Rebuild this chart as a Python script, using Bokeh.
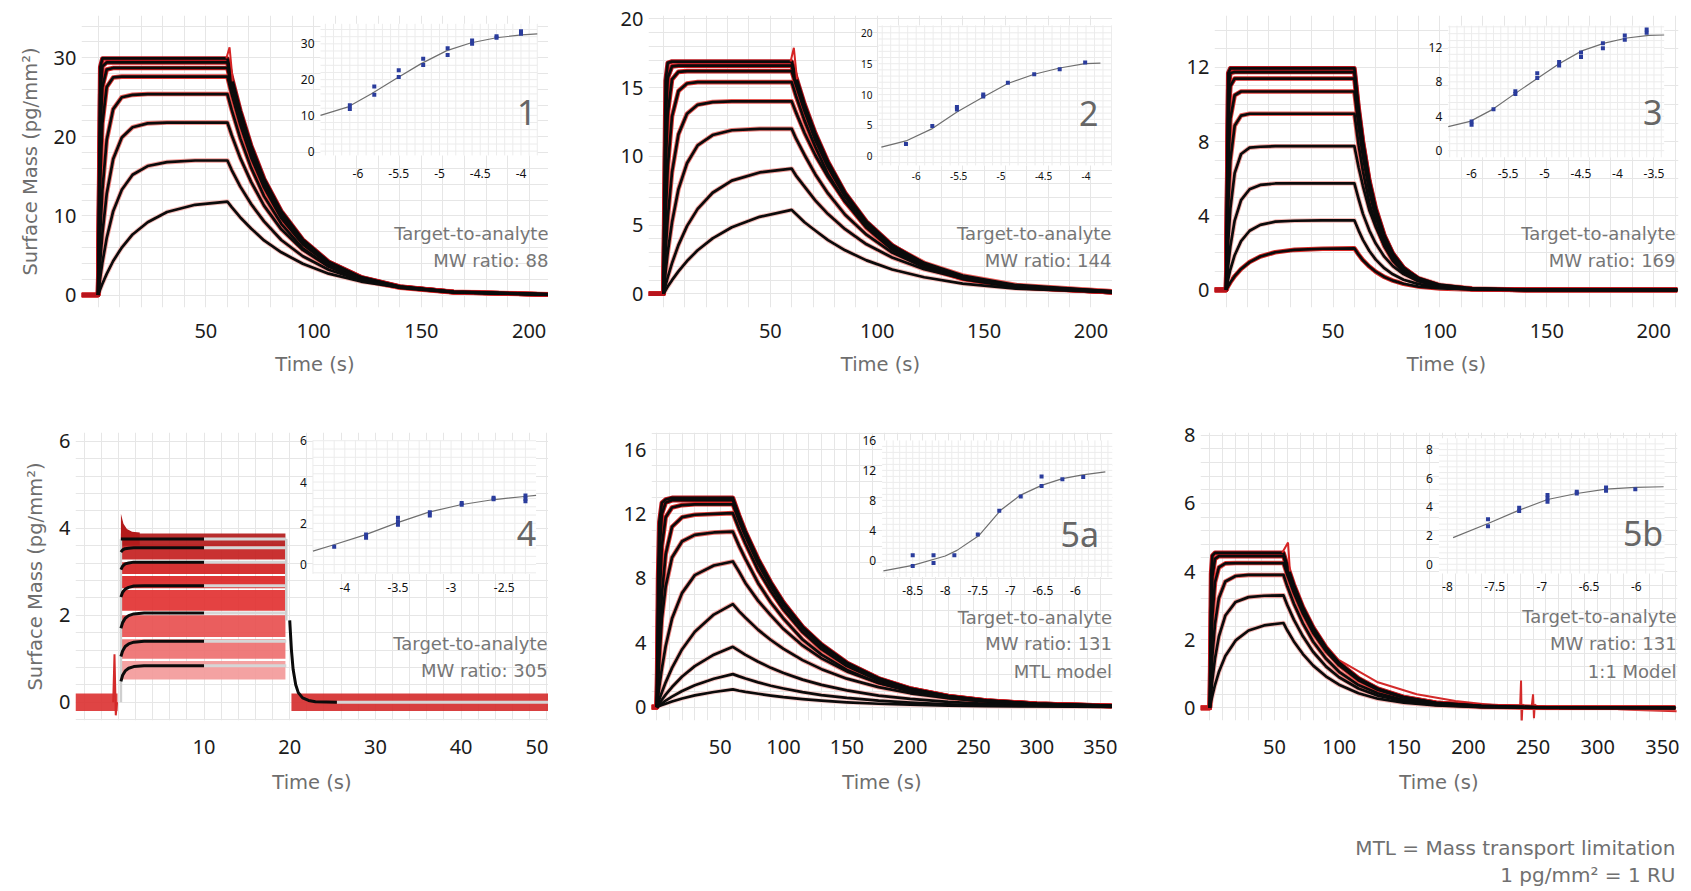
import numpy as np
from bokeh.plotting import figure
from bokeh.layouts import column, row
from bokeh.models import Range1d, FixedTicker, SingleIntervalTicker, Label
from bokeh.core.properties import value
from bokeh.embed import file_html
from bokeh.resources import INLINE

FONT = "Noto Sans"
WIDE_FONT = "DejaVu Sans"
TICK_COLOR = "#1b1b1b"
LABEL_GRAY = "#6e6e6e"
NOTE_GRAY = "#767676"
NUM_GRAY = "#666666"
GRID = "#e6e6e6"
FIT = "#0b0b0b"

Y_TITLE = "Surface Mass (pg/mm²)"
X_TITLE = "Time (s)"
FOOTER_LINES = ["MTL = Mass transport limitation", "1 pg/mm² = 1 RU"]

# ---------------- Panel 1 ----------------
P1_T = [0, 1, 2, 4, 7, 11, 16, 23, 32, 45, 60, 62, 66, 71, 77, 85, 95, 107, 122, 140, 165, 209]
P1_Y = [
    [0, 28.8, 29.9, 29.9, 29.9, 29.9, 29.9, 29.9, 29.9, 29.9, 29.9, 27.5, 23.3, 18.9, 14.7, 10.6, 7.0, 4.2, 2.26, 1.07, 0.38, 0.06],
    [0, 25.4, 28.9, 29.4, 29.4, 29.4, 29.4, 29.4, 29.4, 29.4, 29.4, 27.0, 22.9, 18.6, 14.5, 10.4, 6.85, 4.15, 2.22, 1.05, 0.37, 0.06],
    [0, 20.5, 26.3, 28.5, 28.7, 28.7, 28.7, 28.7, 28.7, 28.7, 28.7, 26.4, 22.4, 18.1, 14.1, 10.1, 6.7, 4.05, 2.17, 1.02, 0.36, 0.06],
    [0, 14.8, 21.7, 26.3, 27.5, 27.6, 27.6, 27.6, 27.6, 27.6, 27.6, 25.4, 21.5, 17.4, 13.6, 9.7, 6.4, 3.9, 2.08, 0.99, 0.35, 0.06],
    [0, 7.9, 13.3, 19.6, 23.5, 25.0, 25.3, 25.4, 25.4, 25.4, 25.4, 23.4, 19.8, 16.1, 12.5, 9.0, 5.9, 3.6, 1.92, 0.91, 0.32, 0.05],
    [0, 4.3, 7.8, 12.8, 17.2, 19.9, 21.2, 21.7, 21.8, 21.8, 21.8, 20.2, 17.3, 14.3, 11.3, 8.3, 5.7, 3.6, 2.0, 1.0, 0.38, 0.07],
    [0, 2.2, 4.1, 7.2, 10.6, 13.3, 15.2, 16.3, 16.8, 17.0, 17.0, 15.8, 13.7, 11.5, 9.3, 6.95, 4.9, 3.2, 1.85, 0.98, 0.40, 0.08],
    [0, 0.73, 1.42, 2.67, 4.3, 6.0, 7.65, 9.2, 10.5, 11.4, 11.8, 11.1, 9.8, 8.4, 6.9, 5.4, 3.95, 2.7, 1.7, 0.97, 0.44, 0.11],
]
P1_RAW_COLORS = ["#b8141c", "#c81a1f", "#d62424", "#e03a36", "#e85a55", "#ee7c77", "#f29d99", "#f6bdb9"]
P1_SPIKE_T = [59.5, 61, 62.5]
P1_SPIKE_Y = [29.9, 31.3, 27.0]
P1_IN_CONC = [-6.1, -6.1, -5.8, -5.8, -5.5, -5.5, -5.2, -5.2, -4.9, -4.9, -4.6, -4.6, -4.3, -4.3, -4.0, -4.0]
P1_IN_RESP = [12.8, 11.8, 18.1, 15.8, 22.6, 20.7, 25.8, 24.1, 28.8, 26.9, 30.9, 30.0, 32.1, 31.7, 33.5, 32.8]
P1_FIT_CONC = [-6.46, -6.13, -5.84, -5.54, -5.23, -4.91, -4.61, -4.30, -3.99, -3.8]
P1_FIT_RESP = [10.0, 12.3, 16.0, 20.2, 24.4, 28.1, 30.3, 31.7, 32.5, 32.8]
P1_IN_XT = [-6, -5.5, -5, -4.5, -4]
P1_IN_YT = [0, 10, 20, 30]
P1_NOTES = ["Target-to-analyte", "MW ratio: 88"]

# ---------------- Panel 2 ----------------
P2_T = [0, 1, 2, 4, 7, 11, 16, 23, 32, 45, 60, 62, 66, 71, 77, 85, 95, 107, 122, 140, 165, 210]
P2_Y = [
    [0, 15.5, 16.8, 16.9, 16.9, 16.9, 16.9, 16.9, 16.9, 16.9, 16.9, 15.8, 13.8, 11.7, 9.6, 7.35, 5.25, 3.53, 2.15, 1.17, 0.51, 0.12],
    [0, 12.6, 15.7, 16.55, 16.6, 16.6, 16.6, 16.6, 16.6, 16.6, 16.6, 15.5, 13.6, 11.5, 9.4, 7.2, 5.16, 3.47, 2.11, 1.15, 0.50, 0.12],
    [0, 9.2, 13.1, 15.6, 16.15, 16.2, 16.2, 16.2, 16.2, 16.2, 16.2, 15.2, 13.3, 11.2, 9.2, 7.05, 5.04, 3.39, 2.06, 1.13, 0.49, 0.11],
    [0, 5.6, 9.2, 12.9, 14.75, 15.3, 15.4, 15.4, 15.4, 15.4, 15.4, 14.4, 12.6, 10.7, 8.7, 6.7, 4.8, 3.2, 1.96, 1.07, 0.47, 0.11],
    [0, 3.1, 5.5, 8.85, 11.6, 13.1, 13.75, 13.95, 14.0, 14.0, 14.0, 13.2, 11.7, 10.1, 8.5, 6.7, 5.0, 3.5, 2.25, 1.33, 0.64, 0.18],
    [0, 1.6, 3.0, 5.2, 7.6, 9.5, 10.8, 11.55, 11.9, 12.0, 12.0, 11.3, 10.1, 8.7, 7.3, 5.75, 4.3, 3.0, 1.93, 1.14, 0.55, 0.15],
    [0, 0.62, 1.19, 2.23, 3.54, 4.92, 6.18, 7.35, 8.23, 8.83, 9.1, 8.6, 7.8, 6.8, 5.8, 4.7, 3.6, 2.64, 1.78, 1.11, 0.57, 0.18],
    [0, 0.26, 0.52, 0.99, 1.63, 2.38, 3.17, 4.03, 4.84, 5.6, 6.1, 5.8, 5.2, 4.6, 3.9, 3.16, 2.43, 1.77, 1.2, 0.74, 0.38, 0.12],
]
P2_RAW_COLORS = ["#b8141c", "#c81a1f", "#d62424", "#e03a36", "#e85a55", "#ee7c77", "#f29d99", "#f6bdb9"]
P2_SPIKE_T = [59.5, 61, 62.5]
P2_SPIKE_Y = [16.9, 17.9, 15.6]
P2_IN_CONC = [-6.12, -5.81, -5.52, -5.52, -5.21, -5.21, -4.92, -4.61, -4.31, -4.01]
P2_IN_RESP = [2.0, 4.9, 8.0, 7.6, 10.0, 9.7, 11.9, 13.3, 14.1, 15.2]
P2_FIT_CONC = [-6.41, -6.12, -5.81, -5.52, -5.21, -4.92, -4.61, -4.31, -4.01, -3.83]
P2_FIT_RESP = [1.5, 2.5, 4.5, 7.2, 9.6, 11.8, 13.3, 14.3, 15.0, 15.1]
P2_IN_XT = [-6, -5.5, -5, -4.5, -4]
P2_IN_YT = [0, 5, 10, 15, 20]
P2_NOTES = ["Target-to-analyte", "MW ratio: 144"]

# ---------------- Panel 3 ----------------
P3_T = [0, 1, 2, 4, 7, 11, 16, 23, 32, 45, 60, 62, 64, 67, 70, 74, 78, 83, 90, 100, 115, 140, 211]
P3_Y = [
    [0, 11.7, 11.95, 11.95, 11.95, 11.95, 11.95, 11.95, 11.95, 11.95, 11.95, 9.8, 8.0, 5.9, 4.4, 2.95, 1.97, 1.2, 0.6, 0.22, 0.05, 0, 0],
    [0, 10.8, 11.7, 11.75, 11.75, 11.75, 11.75, 11.75, 11.75, 11.75, 11.75, 9.6, 7.9, 5.8, 4.3, 2.9, 1.94, 1.18, 0.59, 0.21, 0.05, 0, 0],
    [0, 9.25, 11.0, 11.4, 11.4, 11.4, 11.4, 11.4, 11.4, 11.4, 11.4, 9.3, 7.6, 5.7, 4.2, 2.8, 1.88, 1.14, 0.57, 0.21, 0.05, 0, 0],
    [0, 6.8, 9.25, 10.5, 10.7, 10.7, 10.7, 10.7, 10.7, 10.7, 10.7, 8.8, 7.2, 5.3, 3.9, 2.6, 1.77, 1.07, 0.54, 0.19, 0.04, 0, 0],
    [0, 4.6, 7.0, 8.85, 9.4, 9.5, 9.5, 9.5, 9.5, 9.5, 9.5, 7.8, 6.4, 4.7, 3.5, 2.35, 1.57, 0.95, 0.48, 0.17, 0.04, 0, 0],
    [0, 2.64, 4.38, 6.3, 7.33, 7.67, 7.72, 7.75, 7.75, 7.75, 7.75, 6.6, 5.6, 4.3, 3.4, 2.4, 1.73, 1.14, 0.64, 0.28, 0.08, 0.01, 0],
    [0, 1.33, 2.35, 3.74, 4.84, 5.43, 5.66, 5.74, 5.75, 5.75, 5.75, 4.9, 4.1, 3.2, 2.5, 1.79, 1.28, 0.85, 0.47, 0.21, 0.06, 0.01, 0],
    [0, 0.59, 1.1, 1.87, 2.63, 3.19, 3.51, 3.68, 3.73, 3.75, 3.75, 3.2, 2.7, 2.1, 1.63, 1.17, 0.84, 0.55, 0.31, 0.14, 0.04, 0, 0],
    [0, 0.21, 0.41, 0.74, 1.13, 1.5, 1.8, 2.03, 2.16, 2.22, 2.24, 1.9, 1.6, 1.26, 0.98, 0.7, 0.5, 0.33, 0.18, 0.08, 0.02, 0, 0],
]
P3_RAW_COLORS = ["#b8141c", "#c81a1f", "#d62424", "#e03a36", "#e85a55", "#f0a09c", "#f3aeaa", "#f5bcb8", "#d92a26"]
P3_IN_CONC = [-6.0, -6.0, -5.7, -5.4, -5.4, -5.1, -5.1, -4.8, -4.8, -4.5, -4.5, -4.2, -4.2, -3.9, -3.9, -3.6, -3.6]
P3_IN_RESP = [3.4, 3.0, 4.8, 6.9, 6.6, 9.0, 8.45, 10.3, 9.9, 11.4, 10.9, 12.5, 11.9, 13.4, 12.9, 14.1, 13.7]
P3_FIT_CONC = [-6.32, -6.02, -5.71, -5.41, -5.09, -4.80, -4.49, -4.18, -3.87, -3.57, -3.36]
P3_FIT_RESP = [2.8, 3.4, 4.8, 6.6, 8.45, 10.1, 11.6, 12.5, 13.1, 13.4, 13.45]
P3_IN_XT = [-6, -5.5, -5, -4.5, -4, -3.5]
P3_IN_YT = [0, 4, 8, 12]
P3_NOTES = ["Target-to-analyte", "MW ratio: 169"]

# ---------------- Panel 4 ----------------
P4_LEVELS = [3.75, 3.55, 3.22, 2.68, 2.05, 1.40, 0.84]
P4_FIT_T = [0.3, 0.5, 0.8, 1.2, 1.8, 3.0, 10.0]
P4_FIT_Y = [
    [3.75, 3.75, 3.75, 3.75, 3.75, 3.75, 3.75],
    [3.45, 3.5, 3.53, 3.54, 3.55, 3.55, 3.55],
    [3.05, 3.13, 3.18, 3.2, 3.22, 3.22, 3.22],
    [2.42, 2.53, 2.6, 2.64, 2.67, 2.68, 2.68],
    [1.7, 1.83, 1.93, 1.99, 2.03, 2.05, 2.05],
    [1.05, 1.18, 1.28, 1.34, 1.38, 1.40, 1.40],
    [0.48, 0.62, 0.72, 0.78, 0.82, 0.84, 0.84],
]
P4_INJ_START = 0.3
P4_INJ_END = 19.6
P4_DISSO_T = [20.0, 20.2, 20.4, 20.7, 21.0, 21.5, 22.2, 23.0, 25.5]
P4_DISSO_Y = [1.88, 1.2, 0.75, 0.4, 0.22, 0.1, 0.04, 0.01, 0.0]
P4_BAND_LO = [3.6, 3.28, 2.95, 2.62, 2.1, 1.5, 1.0, 0.52]
P4_BAND_HI = [3.88, 3.62, 3.22, 2.9, 2.58, 2.0, 1.45, 0.95]
P4_BAND_COLORS = ["#b31b1b", "#c41f1f", "#d22222", "#dc2626", "#e23232", "#e85050", "#ee7070", "#f39a9a"]
P4_SPIKE_T = [0.3, 0.6, 1.0, 1.6, 2.5]
P4_SPIKE_HI = [4.33, 4.1, 3.98, 3.92, 3.9]
P4_BASE_LO = -0.2
P4_BASE_HI = 0.2
P4_PRE_SPIKE_T = [-0.6, -0.45, -0.3, -0.15]
P4_PRE_SPIKE_Y = [0.0, 1.1, -0.3, 0.0]
P4_IN_CONC = [-4.1, -3.8, -3.8, -3.5, -3.5, -3.5, -3.2, -3.2, -2.9, -2.9, -2.6, -2.6, -2.3, -2.3, -2.3]
P4_IN_RESP = [0.87, 1.46, 1.30, 2.27, 2.09, 1.93, 2.54, 2.38, 2.98, 2.90, 3.24, 3.16, 3.35, 3.19, 3.07]
P4_FIT_CONC = [-4.30, -4.11, -3.81, -3.51, -3.21, -2.91, -2.61, -2.31, -2.2]
P4_FIT_RESP = [0.65, 0.95, 1.44, 2.02, 2.54, 2.9, 3.14, 3.30, 3.35]
P4_IN_XT = [-4, -3.5, -3, -2.5]
P4_IN_YT = [0, 2, 4, 6]
P4_NOTES = ["Target-to-analyte", "MW ratio: 305"]

# ---------------- Panel 5a ----------------
P5A_T = [0, 1, 2, 4, 7, 12, 20, 30, 45, 60, 65, 70, 80, 90, 100, 115, 130, 150, 175, 200, 230, 260, 300, 359]
P5A_Y = [
    [0, 8.0, 11.5, 12.7, 12.9, 13.0, 13.0, 13.0, 13.0, 13.0, 11.9, 10.9, 9.2, 7.75, 6.5, 5.0, 3.9, 2.76, 1.79, 1.16, 0.69, 0.41, 0.21, 0.08],
    [0, 5.5, 9.5, 12.0, 12.7, 12.85, 12.85, 12.85, 12.85, 12.85, 11.8, 10.8, 9.1, 7.66, 6.45, 4.97, 3.84, 2.72, 1.77, 1.15, 0.68, 0.41, 0.21, 0.07],
    [0, 3.5, 6.5, 10.0, 11.8, 12.4, 12.55, 12.6, 12.6, 12.6, 11.55, 10.6, 8.9, 7.5, 6.3, 4.9, 3.77, 2.67, 1.74, 1.12, 0.67, 0.4, 0.2, 0.07],
    [0, 2.0, 3.9, 7.0, 9.5, 11.2, 11.8, 11.95, 12.0, 12.05, 11.05, 10.15, 8.5, 7.2, 6.05, 4.66, 3.6, 2.55, 1.66, 1.07, 0.64, 0.38, 0.19, 0.07],
    [0, 1.5, 3.0, 5.5, 7.5, 9.3, 10.3, 10.7, 10.85, 10.9, 10.0, 9.2, 7.7, 6.5, 5.5, 4.2, 3.26, 2.31, 1.5, 0.97, 0.58, 0.35, 0.17, 0.06],
    [0, 0.67, 1.3, 2.4, 3.8, 5.5, 7.1, 8.2, 8.8, 9.05, 8.4, 7.7, 6.6, 5.7, 4.85, 3.83, 3.03, 2.22, 1.5, 1.01, 0.63, 0.4, 0.21, 0.09],
    [0, 0.24, 0.48, 0.92, 1.54, 2.44, 3.6, 4.68, 5.75, 6.4, 5.95, 5.55, 4.8, 4.17, 3.62, 2.92, 2.36, 1.77, 1.24, 0.86, 0.56, 0.36, 0.2, 0.09],
    [0, 0.12, 0.24, 0.46, 0.78, 1.25, 1.9, 2.55, 3.26, 3.75, 3.5, 3.25, 2.82, 2.44, 2.12, 1.71, 1.38, 1.04, 0.72, 0.51, 0.33, 0.21, 0.12, 0.05],
    [0, 0.06, 0.12, 0.24, 0.4, 0.65, 1.0, 1.36, 1.76, 2.05, 1.91, 1.78, 1.54, 1.33, 1.16, 0.93, 0.75, 0.57, 0.4, 0.28, 0.18, 0.12, 0.07, 0.03],
    [0, 0.03, 0.065, 0.13, 0.215, 0.35, 0.54, 0.73, 0.94, 1.1, 1.02, 0.95, 0.83, 0.72, 0.62, 0.5, 0.4, 0.3, 0.21, 0.15, 0.1, 0.06, 0.04, 0.02],
]
P5A_RAW_COLORS = ["#c0161c", "#d01d20", "#dc2a28", "#e2403b", "#ea6560", "#ef8a86", "#f3a5a1", "#f5b8b5", "#f7c8c5", "#f8d2d0"]
P5A_IN_CONC = [-8.5, -8.5, -8.18, -8.18, -7.86, -7.5, -7.17, -6.84, -6.52, -6.52, -6.2, -5.88]
P5A_IN_RESP = [0.67, -0.76, 0.67, -0.36, 0.67, 3.45, 6.6, 8.5, 11.2, 9.9, 10.8, 11.1]
P5A_FIT_CONC = [-8.95, -8.5, -8.0, -7.82, -7.48, -7.15, -6.85, -6.52, -6.2, -5.89, -5.54]
P5A_FIT_RESP = [-1.4, -0.67, 0.58, 1.33, 3.33, 6.67, 8.67, 10.0, 10.9, 11.4, 11.8]
P5A_IN_XT = [-8.5, -8, -7.5, -7, -6.5, -6]
P5A_IN_YT = [0, 4, 8, 12, 16]
P5A_NOTES = ["Target-to-analyte", "MW ratio: 131", "MTL model"]

# ---------------- Panel 5b ----------------
P5B_T = [0, 1, 2, 4, 7, 12, 20, 30, 42, 57, 60, 65, 72, 80, 90, 100, 115, 130, 150, 175, 210, 260, 360]
P5B_Y = [
    [0, 3.94, 4.47, 4.55, 4.55, 4.55, 4.55, 4.55, 4.55, 4.55, 4.18, 3.62, 2.96, 2.36, 1.77, 1.33, 0.87, 0.56, 0.32, 0.15, 0.06, 0.01, 0],
    [0, 2.81, 3.85, 4.37, 4.45, 4.45, 4.45, 4.45, 4.45, 4.45, 4.09, 3.54, 2.9, 2.31, 1.74, 1.3, 0.85, 0.55, 0.31, 0.15, 0.06, 0.01, 0],
    [0, 1.67, 2.69, 3.68, 4.12, 4.24, 4.25, 4.25, 4.25, 4.25, 3.9, 3.38, 2.77, 2.2, 1.66, 1.25, 0.81, 0.53, 0.3, 0.14, 0.05, 0.01, 0],
    [0, 0.86, 1.53, 2.46, 3.22, 3.71, 3.87, 3.9, 3.9, 3.9, 3.56, 3.06, 2.48, 1.94, 1.44, 1.06, 0.67, 0.43, 0.23, 0.11, 0.04, 0.01, 0],
    [0, 0.44, 0.82, 1.44, 2.09, 2.71, 3.11, 3.25, 3.29, 3.3, 3.01, 2.59, 2.1, 1.64, 1.21, 0.9, 0.57, 0.36, 0.2, 0.09, 0.03, 0.01, 0],
    [0, 0.19, 0.36, 0.67, 1.05, 1.52, 1.98, 2.27, 2.42, 2.49, 2.27, 1.95, 1.58, 1.24, 0.92, 0.68, 0.43, 0.27, 0.15, 0.07, 0.02, 0, 0],
]
P5B_RAW_COLORS = ["#c81a1f", "#d62424", "#e03a36", "#ea6a66", "#f0a09c", "#f4b6b3"]
P5B_SPIKE_T = [56, 60.5, 62]
P5B_SPIKE_Y = [4.55, 4.85, 4.0]
P5B_RAW_TAIL_T = [100, 130, 160, 190, 220, 240, 240.7, 241.2, 241.8, 243, 249, 250, 250.7, 251.3, 253, 300, 330, 361]
P5B_RAW_TAIL_Y = [1.4, 0.75, 0.4, 0.2, 0.08, 0.06, 0.8, -0.45, 0.1, 0.06, 0.06, 0.4, -0.3, 0.1, 0.05, 0.0, -0.06, -0.1]
P5B_IN_CONC = [-7.57, -7.57, -7.24, -7.24, -6.94, -6.94, -6.94, -6.63, -6.63, -6.32, -6.32, -6.01]
P5B_IN_RESP = [3.15, 2.66, 3.94, 3.71, 4.83, 4.59, 4.36, 5.06, 4.94, 5.36, 5.13, 5.24]
P5B_FIT_CONC = [-7.94, -7.57, -7.24, -6.94, -6.63, -6.32, -6.01, -5.71]
P5B_FIT_RESP = [1.86, 2.85, 3.78, 4.52, 4.94, 5.24, 5.36, 5.41]
P5B_IN_XT = [-8, -7.5, -7, -6.5, -6]
P5B_IN_YT = [0, 2, 4, 6, 8]
P5B_NOTES = ["Target-to-analyte", "MW ratio: 131", "1:1 Model"]


def fmt(v):
    return str(int(v)) if float(v).is_integer() else str(v)


def base_fig(w, h, bl, br, bt, bb, xr, yr, xt, yt, gx, gy, ylab, lab_off=16, title_off=12):
    p = figure(width=w, height=h, x_range=Range1d(*xr), y_range=Range1d(*yr),
               output_backend="svg", toolbar_location=None, tools="",
               min_border_left=bl, min_border_right=br, min_border_top=bt, min_border_bottom=bb)
    p.outline_line_color = None
    p.background_fill_color = "white"
    p.border_fill_color = "white"
    p.xaxis.ticker = FixedTicker(ticks=xt)
    p.yaxis.ticker = FixedTicker(ticks=yt)
    p.xgrid.ticker = SingleIntervalTicker(interval=gx)
    p.ygrid.ticker = SingleIntervalTicker(interval=gy)
    p.grid.grid_line_color = GRID
    p.grid.grid_line_width = 1
    for ax in p.axis:
        ax.axis_line_color = None
        ax.major_tick_line_color = None
        ax.minor_tick_line_color = None
        ax.major_tick_out = 0
        ax.major_tick_in = 0
        ax.minor_tick_out = 0
        ax.minor_tick_in = 0
        ax.major_label_text_font = FONT
        ax.major_label_text_font_size = "20px"
        ax.major_label_text_color = TICK_COLOR
        ax.axis_label_text_font = WIDE_FONT
        ax.axis_label_text_font_size = "19.5px"
        ax.axis_label_text_font_style = "normal"
        ax.axis_label_text_color = LABEL_GRAY
    p.xaxis.axis_label = X_TITLE
    p.xaxis.major_label_standoff = lab_off
    p.xaxis.axis_label_standoff = title_off
    p.yaxis.major_label_standoff = 5
    p.yaxis.axis_label_standoff = 9
    if ylab:
        p.yaxis.axis_label = Y_TITLE
    return p


def sensorgram(p, t, curves, reds, x0, red_w=4.6, fit_w=2.7):
    for ys, c in reversed(list(zip(curves, reds))):
        p.line([x0] + t, [0.0] + ys, line_color=c, line_width=red_w, line_join="round")
    for ys in curves:
        p.line(t, ys, line_color=FIT, line_width=fit_w, line_join="round")


def inset(p, sx, sy, tx, ty, xt, yt, cx, cy, px, py, fs, xoff):
    xy = p.subplot(x_source=Range1d(*sx), y_source=Range1d(*sy),
                   x_target=Range1d(*tx), y_target=Range1d(*ty))
    xy.quad(left=[sx[0]], right=[sx[1]], bottom=[sy[0]], top=[sy[1]],
            fill_color="white", line_color=None)
    gxs = np.arange(np.ceil(sx[0] * 10) / 10, sx[1], 0.1)
    ystep = (yt[1] - yt[0]) / 5.0
    gys = np.arange(np.ceil(sy[0] / ystep) * ystep, sy[1], ystep)
    xy.segment(x0=gxs, y0=[sy[0]] * len(gxs), x1=gxs, y1=[sy[1]] * len(gxs),
               line_color="#ececec", line_width=1)
    xy.segment(x0=[sx[0]] * len(gys), y0=gys, x1=[sx[1]] * len(gys), y1=gys,
               line_color="#ececec", line_width=1)
    xy.line(cx, cy, line_color="#6f6f6f", line_width=1.2)
    xy.scatter(px, py, marker="square", size=4, fill_color="#2a3c9c", line_color=None)
    xy.text(x=xt, y=[sy[0]] * len(xt), text=[fmt(v) for v in xt], y_offset=xoff,
            text_align="center", text_baseline="middle", text_font=value(FONT),
            text_font_size=fs, text_color="#111111")
    xy.text(x=[sx[0]] * len(yt), y=yt, text=[fmt(v) for v in yt], x_offset=-6,
            text_align="right", text_baseline="middle", text_font=value(FONT),
            text_font_size=fs, text_color="#111111")


def annotate(p, num, nx, ny, notes, ax, ys):
    p.add_layout(Label(x=nx, y=ny, text=num, text_font=FONT, text_font_size="34px",
                       text_color=NUM_GRAY, text_align="right", text_baseline="middle"))
    for txt, y in zip(notes, ys):
        p.add_layout(Label(x=ax, y=y, text=txt, text_font=WIDE_FONT, text_font_size="18px",
                           text_color=NOTE_GRAY, text_align="right", text_baseline="middle"))


# ---------------- build row 1 ----------------
R1_H, R1_T, R1_B = 393, 15, 86
f1 = base_fig(548, R1_H, 81, 0, R1_T, R1_B, (-7.7, 209.0), (-1.58, 35.33), [50, 100, 150, 200], [0, 10, 20, 30], 10, 2, True)
sensorgram(f1, P1_T, P1_Y, P1_RAW_COLORS, -7.7)
f1.line(P1_SPIKE_T, P1_SPIKE_Y, line_color="#d62424", line_width=2)
inset(f1, (-6.46, -3.8), (-1.2, 35.6), (103.2, 203.8), (17.64, 34.28), P1_IN_XT, P1_IN_YT,
      P1_FIT_CONC, P1_FIT_RESP, P1_IN_CONC, P1_IN_RESP, "12px", 18)
annotate(f1, "1", 203.4, 23.1, P1_NOTES, 209.0, [7.81, 4.36])

f2 = base_fig(564, R1_H, 100, 0, R1_T, R1_B, (-7.0, 210.1), (-1.0, 20.25), [50, 100, 150, 200], [0, 5, 10, 15, 20], 10, 1, False)
sensorgram(f2, P2_T, P2_Y, P2_RAW_COLORS, -7.0)
f2.line(P2_SPIKE_T, P2_SPIKE_Y, line_color="#d62424", line_width=2)
inset(f2, (-6.444, -3.688), (-1.46, 21.2), (100.6, 210.1), (9.34, 19.53), P2_IN_XT, P2_IN_YT,
      P2_FIT_CONC, P2_FIT_RESP, P2_IN_CONC, P2_IN_RESP, "10px", 11)
annotate(f2, "2", 203.5, 13.12, P2_NOTES, 209.6, [4.41, 2.42])

f3 = base_fig(571, R1_H, 102, 5, R1_T, R1_B, (-5.43, 211.6), (-0.95, 14.8), [50, 100, 150, 200], [0, 4, 8, 12], 10, 1, False)
sensorgram(f3, P3_T, P3_Y, P3_RAW_COLORS, -5.43)
inset(f3, (-6.32, -3.36), (-0.78, 14.53), (103.9, 204.9), (7.15, 14.25), P3_IN_XT, P3_IN_YT,
      P3_FIT_CONC, P3_FIT_RESP, P3_IN_CONC, P3_IN_RESP, "12px", 16)
annotate(f3, "3", 204.1, 9.57, P3_NOTES, 210.2, [3.05, 1.58])

# ---------------- build row 2 ----------------
R2_H, R2_T, R2_B = 415, 39, 88
f4 = base_fig(548, R2_H, 75, 0, R2_T, R2_B, (-5.0, 50.2), (-0.42, 6.2), [10, 20, 30, 40, 50], [0, 2, 4, 6], 2, 0.4, True, 19, 14)
x0, x1 = f4.x_range.start, f4.x_range.end
f4.varea(x=[x0, -0.1], y1=[P4_BASE_LO] * 2, y2=[P4_BASE_HI] * 2, fill_color="#dc3030", fill_alpha=0.9)
f4.varea(x=[20.2, x1], y1=[P4_BASE_LO] * 2, y2=[P4_BASE_HI] * 2, fill_color="#d42a2a", fill_alpha=0.9)
f4.line(P4_PRE_SPIKE_T, P4_PRE_SPIKE_Y, line_color="#d42a2a", line_width=2)
for lo, hi, c in reversed(list(zip(P4_BAND_LO, P4_BAND_HI, P4_BAND_COLORS))):
    f4.varea(x=[P4_INJ_START, P4_INJ_END - 0.1], y1=[lo, lo], y2=[hi, hi], fill_color=c, fill_alpha=0.92)
f4.varea(x=P4_SPIKE_T, y1=[P4_BAND_LO[0]] * len(P4_SPIKE_T), y2=P4_SPIKE_HI, fill_color=P4_BAND_COLORS[0])
f4.line([P4_INJ_START, P4_INJ_START], [0, P4_LEVELS[0]], line_color="#cfcfcf", line_width=2.5)
for lv in P4_LEVELS:
    f4.line([P4_FIT_T[-1], P4_INJ_END], [lv, lv], line_color="#d6d6d6", line_width=3)
f4.line([P4_INJ_END, P4_INJ_END], [P4_LEVELS[0], P4_DISSO_Y[0]], line_color="#cfcfcf", line_width=2.5)
f4.line([P4_DISSO_T[-1], x1], [0, 0], line_color="#d6d6d6", line_width=3)
for ys in P4_FIT_Y:
    f4.line(P4_FIT_T, ys, line_color=FIT, line_width=3)
f4.line(P4_DISSO_T, P4_DISSO_Y, line_color=FIT, line_width=3)
inset(f4, (-4.30, -2.20), (-0.45, 6.02), (22.71, 48.75), (2.95, 6.02), P4_IN_XT, P4_IN_YT,
      P4_FIT_CONC, P4_FIT_RESP, P4_IN_CONC, P4_IN_RESP, "12px", 14)
annotate(f4, "4", 48.75, 3.87, P4_NOTES, 50.1, [1.36, 0.73])

f5 = base_fig(572, R2_H, 103, 8, R2_T, R2_B, (-4.19, 359.6), (-0.83, 17.06), [50, 100, 150, 200, 250, 300, 350], [0, 4, 8, 12, 16], 10, 1, False, 19, 14)
sensorgram(f5, P5A_T, P5A_Y, P5A_RAW_COLORS, -4.19)
inset(f5, (-8.97, -5.43), (-2.23, 16.0), (177.8, 359.6), (8.08, 16.57), P5A_IN_XT, P5A_IN_YT,
      P5A_FIT_CONC, P5A_FIT_RESP, P5A_IN_CONC, P5A_IN_RESP, "12px", 13)
annotate(f5, "5a", 349.0, 10.77, P5A_NOTES, 359.2, [5.59, 3.94, 2.22])

f6 = base_fig(563, R2_H, 80, 6, R2_T, R2_B, (-7.19, 361.7), (-0.37, 8.08), [50, 100, 150, 200, 250, 300, 350], [0, 2, 4, 6, 8], 10, 0.4, False, 19, 14)
f6.line(P5B_RAW_TAIL_T, P5B_RAW_TAIL_Y, line_color="#d42a2a", line_width=2)
sensorgram(f6, P5B_T, P5B_Y, P5B_RAW_COLORS, -7.19)
f6.line(P5B_SPIKE_T, P5B_SPIKE_Y, line_color="#d62424", line_width=2)
inset(f6, (-8.09, -5.70), (-0.65, 8.79), (177.2, 351.7), (3.94, 7.91), P5B_IN_XT, P5B_IN_YT,
      P5B_FIT_CONC, P5B_FIT_RESP, P5B_IN_CONC, P5B_IN_RESP, "12px", 13)
annotate(f6, "5b", 350.7, 5.12, P5B_NOTES, 361.0, [2.69, 1.9, 1.08])

# ---------------- footer ----------------
FOOT_H = 83
foot = figure(width=1683, height=FOOT_H, x_range=Range1d(0, 1683), y_range=Range1d(FOOT_H, 0),
              output_backend="svg", toolbar_location=None, tools="", min_border=0,
              x_axis_type=None, y_axis_type=None)
foot.outline_line_color = None
foot.background_fill_color = "white"
foot.border_fill_color = "white"
foot.text(x=[1675, 1675], y=[39, 66], text=FOOTER_LINES, text_align="right", text_baseline="middle",
          text_font=value(WIDE_FONT), text_font_size="20px", text_color="#707070")

layout = column(row(f1, f2, f3), row(f4, f5, f6), foot)
open("out.html", "w").write(file_html(layout, INLINE))
